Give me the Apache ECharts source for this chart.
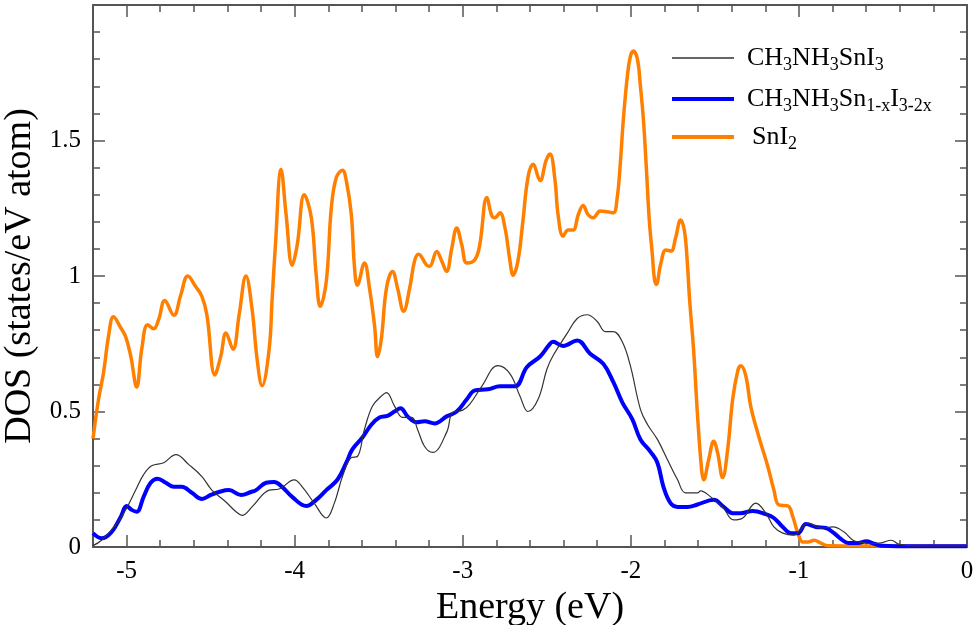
<!DOCTYPE html>
<html>
<head>
<meta charset="utf-8">
<script src="https://cdn.jsdelivr.net/npm/echarts@6/dist/echarts.min.js"></script>
<style>
  html, body { margin: 0; padding: 0; background: #fff; }
  #chart { width: 974px; height: 625px; }
</style>
</head>
<body>
<div id="chart"></div>
<script>
// CH3NH3SnI3 (thin black)
var energyPure = [-5.2, -5.149, -5.066, -5.006, -4.946, -4.899, -4.851, -4.779, -4.707, -4.630, -4.552, -4.493, -4.409, -4.349, -4.313,
    -4.254, -4.152, -4.093, -4.003, -3.955, -3.884, -3.812, -3.764, -3.716, -3.663, -3.627, -3.585, -3.537, -3.484, -3.454,
    -3.406, -3.358, -3.304, -3.269, -3.227, -3.179, -3.096, -3.060, -3.0, -2.958, -2.887, -2.791, -2.719, -2.660, -2.612,
    -2.552, -2.499, -2.463, -2.379, -2.319, -2.260, -2.200, -2.152, -2.104, -2.051, -2.003, -1.943, -1.901, -1.842, -1.782,
    -1.722, -1.675, -1.603, -1.585, -1.525, -1.454, -1.388, -1.334, -1.257, -1.197, -1.149, -1.096, -1.030, -0.946, -0.869,
    -0.797, -0.731, -0.678, -0.630, -0.570, -0.510, -0.451, -0.403, -0.3, 0];
var dosPure = [0.005, 0.025, 0.08, 0.137, 0.21, 0.267, 0.30, 0.311, 0.341, 0.304, 0.26, 0.21, 0.166, 0.13, 0.117,
    0.148, 0.21, 0.214, 0.248, 0.222, 0.162, 0.107, 0.162, 0.26, 0.33, 0.334, 0.434, 0.52, 0.557, 0.57,
    0.52, 0.478, 0.478, 0.434, 0.371, 0.349, 0.423, 0.497, 0.505, 0.527, 0.593, 0.669, 0.639, 0.557, 0.50,
    0.545, 0.657, 0.706, 0.788, 0.843, 0.857, 0.832, 0.795, 0.795, 0.757, 0.669, 0.508, 0.452, 0.397, 0.322,
    0.248, 0.2, 0.2, 0.207, 0.185, 0.148, 0.1, 0.107, 0.162, 0.125, 0.074, 0.051, 0.044, 0.088, 0.07,
    0.074, 0.055, 0.025, 0.018, 0.012, 0.015, 0.025, 0.01, 0.004, 0.004];

// CH3NH3Sn1-xI3-2x (thick blue)
var energyMix = [-5.2, -5.149, -5.090, -5.036, -5.0, -4.970, -4.940, -4.899, -4.857, -4.815, -4.767, -4.719, -4.672, -4.612, -4.552,
    -4.499, -4.451, -4.391, -4.319, -4.260, -4.230, -4.170, -4.122, -4.075, -4.015, -3.931, -3.872, -3.812, -3.746, -3.693,
    -3.657, -3.597, -3.543, -3.496, -3.448, -3.406, -3.370, -3.328, -3.275, -3.227, -3.167, -3.096, -3.036, -2.976, -2.928,
    -2.851, -2.779, -2.690, -2.618, -2.540, -2.487, -2.463, -2.403, -2.319, -2.242, -2.164, -2.104, -2.051, -1.991, -1.943,
    -1.884, -1.842, -1.806, -1.764, -1.722, -1.663, -1.603, -1.507, -1.448, -1.394, -1.346, -1.275, -1.197, -1.149, -1.096,
    -1.048, -1.006, -0.958, -0.899, -0.839, -0.791, -0.749, -0.707, -0.648, -0.600, -0.552, -0.510, -0.3, 0];
var dosMix = [0.051, 0.032, 0.055, 0.11, 0.151, 0.137, 0.13, 0.185, 0.237, 0.252, 0.237, 0.222, 0.222, 0.2, 0.177,
    0.192, 0.203, 0.21, 0.192, 0.203, 0.21, 0.237, 0.24, 0.222, 0.185, 0.151, 0.174, 0.21, 0.248, 0.311,
    0.36, 0.404, 0.452, 0.478, 0.484, 0.50, 0.512, 0.482, 0.46, 0.464, 0.456, 0.482, 0.50, 0.545, 0.578,
    0.582, 0.593, 0.593, 0.664, 0.703, 0.745, 0.757, 0.742, 0.762, 0.713, 0.676, 0.608, 0.534, 0.471, 0.397,
    0.352, 0.311, 0.222, 0.162, 0.148, 0.148, 0.157, 0.174, 0.148, 0.125, 0.125, 0.133, 0.121, 0.107, 0.074,
    0.051, 0.051, 0.085, 0.074, 0.07, 0.051, 0.029, 0.015, 0.015, 0.021, 0.012, 0.005, 0.003, 0.003];

// SnI2 (orange)
var energySn = [-5.2, -5.167, -5.137, -5.107, -5.078, -5.036, -5.006, -4.976, -4.940, -4.910, -4.875, -4.839, -4.809, -4.773, -4.719,
    -4.678, -4.636, -4.588, -4.552, -4.522, -4.475, -4.439, -4.409, -4.367, -4.331, -4.290, -4.254, -4.224, -4.194, -4.152,
    -4.134, -4.116, -4.081, -4.051, -4.015, -3.985, -3.943, -3.901, -3.872, -3.848, -3.812, -3.782, -3.752, -3.716, -3.693,
    -3.663, -3.645, -3.627, -3.585, -3.555, -3.525, -3.507, -3.484, -3.454, -3.418, -3.388, -3.352, -3.316, -3.287, -3.263,
    -3.215, -3.197, -3.155, -3.125, -3.096, -3.066, -3.036, -3.006, -2.976, -2.928, -2.899, -2.857, -2.827, -2.809, -2.779,
    -2.749, -2.719, -2.701, -2.672, -2.642, -2.612, -2.582, -2.540, -2.504, -2.481, -2.451, -2.433, -2.403, -2.373, -2.343,
    -2.313, -2.284, -2.254, -2.224, -2.182, -2.140, -2.104, -2.081, -2.063, -2.045, -2.021, -2.003, -1.985, -1.961, -1.943,
    -1.925, -1.907, -1.890, -1.872, -1.860, -1.848, -1.824, -1.791, -1.761, -1.734, -1.704, -1.681, -1.663, -1.651, -1.627,
    -1.603, -1.579, -1.567, -1.537, -1.507, -1.484, -1.454, -1.424, -1.394, -1.364, -1.346, -1.316, -1.287, -1.239, -1.185,
    -1.149, -1.119, -1.066, -1.036, -1.006, -0.976, -0.946, -0.910, -0.869, -0.827, -0.6, -0.3, 0];
var dosSn = [0.40, 0.545, 0.645, 0.78, 0.85, 0.81, 0.776, 0.706, 0.59, 0.73, 0.82, 0.805, 0.84, 0.91, 0.855,
    0.93, 1.0, 0.96, 0.925, 0.855, 0.635, 0.706, 0.79, 0.73, 0.855, 1.0, 0.88, 0.695, 0.595, 0.73,
    0.917, 1.1, 1.393, 1.226, 1.04, 1.115, 1.30, 1.215, 1.003, 0.888, 0.98, 1.252, 1.364, 1.39, 1.352,
    1.226, 1.04, 0.966, 1.048, 0.955, 0.818, 0.702, 0.77, 0.955, 1.017, 0.955, 0.87, 0.955, 1.055, 1.08,
    1.04, 1.036, 1.09, 1.055, 1.017, 1.10, 1.177, 1.115, 1.048, 1.06, 1.115, 1.29, 1.222, 1.215, 1.233,
    1.178, 1.055, 1.003, 1.055, 1.204, 1.364, 1.412, 1.352, 1.427, 1.45, 1.352, 1.226, 1.147, 1.17, 1.17,
    1.226, 1.26, 1.226, 1.215, 1.24, 1.237, 1.233, 1.29, 1.413, 1.575, 1.736, 1.81, 1.83, 1.80, 1.70,
    1.575, 1.39, 1.203, 1.078, 0.99, 0.969, 1.04, 1.096, 1.092, 1.14, 1.207, 1.166, 1.04, 0.917, 0.73,
    0.483, 0.285, 0.248, 0.322, 0.39, 0.348, 0.256, 0.36, 0.546, 0.65, 0.669, 0.632, 0.52, 0.408, 0.297,
    0.21, 0.155, 0.152, 0.111, 0.051, 0.018, 0.018, 0.025, 0.014, 0.005, 0.004, 0.004, 0.004];

var xMajorTicks = [-5, -4, -3, -2, -1, 0];
var seriesNames = ['CH3NH3SnI3', 'CH3NH3Sn1-xI3-2x', 'SnI2'];
var legendLabels = ['CH{s|3}NH{s|3}SnI{s|3}', 'CH{s|3}NH{s|3}Sn{s|1-x}I{s|3-2x}', 'SnI{s|2}'];

var serif = 'Liberation Serif';
var axisColor = '#555';

function pairs(xs, ys) {
    return xs.map(function (x, i) { return [x, ys[i]]; });
}

var chart = echarts.init(document.getElementById('chart'));

function xAxisPart(pos, major, withLabel) {
    var a = {
        type: 'value', position: pos, min: -5.2, max: 0,
        splitLine: { show: false },
        axisLine: { show: !major, onZero: false, lineStyle: { color: axisColor, width: 2 } },
        axisTick: { show: true, inside: true, length: major ? 12 : 7, lineStyle: { color: axisColor, width: 1.5 } },
        axisLabel: { show: false }
    };
    if (major) {
        a.axisTick.customValues = xMajorTicks;
    } else {
        a.interval = 0.2;
    }
    if (withLabel) {
        a.axisLabel = { show: true, customValues: xMajorTicks, fontFamily: serif, fontSize: 25, color: '#000', margin: 12 };
        a.name = 'Energy (eV)';
        a.nameLocation = 'middle';
        a.nameGap = 31;
        a.nameTextStyle = { fontFamily: serif, fontSize: 38, color: '#000' };
    }
    return a;
}

function yAxisPart(pos, withLabel) {
    var a = {
        type: 'value', position: pos, min: 0, max: 2, interval: 0.5,
        splitLine: { show: false },
        axisLine: { show: true, onZero: false, lineStyle: { color: axisColor, width: 2 } },
        axisTick: { show: true, inside: true, length: 12, lineStyle: { color: axisColor, width: 1.5 } },
        minorTick: { show: true, splitNumber: 5, length: 7, lineStyle: { color: axisColor, width: 1.5 } },
        axisLabel: { show: false }
    };
    if (withLabel) {
        a.axisLabel = { show: true, showMaxLabel: false, fontFamily: serif, fontSize: 25, color: '#000', margin: 12 };
        a.name = 'DOS (states/eV atom)';
        a.nameLocation = 'middle';
        a.nameGap = 46;
        a.nameTextStyle = { fontFamily: serif, fontSize: 38, color: '#000' };
    }
    return a;
}

var lineColors = ['#333333', '#0000ff', '#ff8000'];
var lineWidths = [1.2, 4, 3.5];
var legendTops = [40, 81, 119];
var legendTextPad = [8, 8, 13];

var legends = seriesNames.map(function (name, i) {
    return {
        left: 667, top: legendTops[i],
        icon: 'rect', itemWidth: 62, itemHeight: lineWidths[i] < 2 ? 1.5 : 4,
        data: [{ name: name, itemStyle: { color: lineColors[i] } }],
        formatter: function () { return legendLabels[i]; },
        textStyle: {
            fontFamily: serif, fontSize: 26, color: '#000', padding: [0, 0, 0, legendTextPad[i]],
            rich: { s: { fontFamily: serif, fontSize: 18, color: '#000', padding: [14, 0, 0, 0] } }
        }
    };
});

// black drawn on top, then blue, orange underneath
var zOrder = [5, 4, 3];
var series = [[energyPure, dosPure], [energyMix, dosMix], [energySn, dosSn]].map(function (d, i) {
    return {
        name: seriesNames[i], type: 'line', xAxisIndex: 0, yAxisIndex: 0,
        data: pairs(d[0], d[1]),
        smooth: 0.4, symbol: 'none', z: zOrder[i],
        lineStyle: { color: lineColors[i], width: lineWidths[i] },
        itemStyle: { color: lineColors[i] }
    };
});

chart.setOption({
    animation: false,
    backgroundColor: '#fff',
    grid: { left: 93, right: 7, top: 5, bottom: 78, outerBoundsMode: 'none', containLabel: false },
    legend: legends,
    xAxis: [xAxisPart('bottom', false, true), xAxisPart('bottom', true, false), xAxisPart('top', false, false), xAxisPart('top', true, false)],
    yAxis: [yAxisPart('left', true), yAxisPart('right', false)],
    series: series
});
</script>
</body>
</html>
